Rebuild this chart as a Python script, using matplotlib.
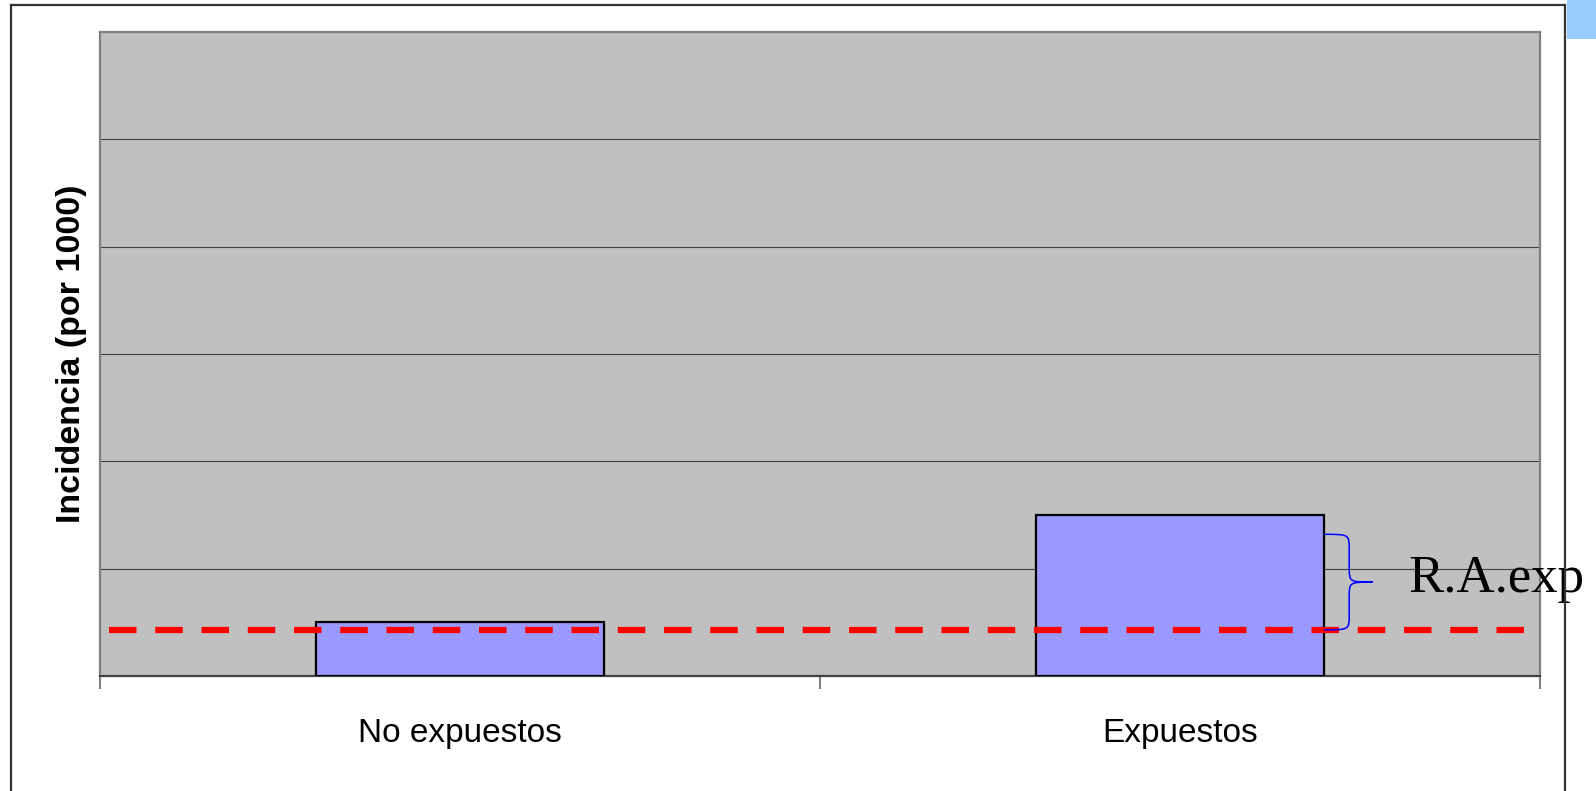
import matplotlib
matplotlib.use("Agg")
import matplotlib.pyplot as plt
from matplotlib.path import Path
from matplotlib.patches import PathPatch, Rectangle
from matplotlib.lines import Line2D

# data
categorias = ["No expuestos", "Expuestos"]
incidencia = [5, 15]
incidencia_base = 4.3
ra_top = 13.2
ylim_max = 60
grid_vals = [10, 20, 30, 40, 50]

W, H = 1596, 791
fig = plt.figure(figsize=(W / 100, H / 100), dpi=100)
fig.patch.set_facecolor("white")

# outer frame (slide border) and blue corner
fig.add_artist(Line2D([10.7 / W, 10.7 / W], [0, 1 - 5 / H], color="#333333", lw=1.6))
fig.add_artist(Line2D([10.7 / W, 1565 / W], [1 - 5 / H, 1 - 5 / H], color="#333333", lw=1.6))
fig.add_artist(Line2D([1565 / W, 1565 / W], [0, 1 - 5 / H], color="#333333", lw=1.6))
fig.add_artist(Rectangle((1566.5 / W, 1 - 39 / H), 1, 39 / H, transform=fig.transFigure,
                         facecolor="#99CCFF", edgecolor="none"))

ax = fig.add_axes([100 / W, 1 - 676 / H, 1440 / W, 644 / H])
ax.set_facecolor("#C0C0C0")

x = list(range(len(categorias)))
ax.bar(x, incidencia, width=0.4, color="#9999FF", edgecolor="black", linewidth=1.6, zorder=3)

for g in grid_vals:
    ax.axhline(g, color="#404040", lw=0.8, zorder=1)

ax.axhline(incidencia_base, xmin=0.006, xmax=0.995, color="#FF0000", lw=4.5,
           dashes=(4.4, 3), zorder=4)

ax.set_xlim(-0.5, 1.5)
ax.set_ylim(0, ylim_max)
ax.set_yticks([])
ax.set_xticks([-0.5, 0.5, 1.5])
ax.set_xticklabels([])
ax.tick_params(axis="x", length=9, width=1.5, color="#808080")
ax.set_xticks(x, minor=True)
ax.set_xticklabels(categorias, minor=True, fontsize=24, family="Liberation Sans")
ax.tick_params(axis="x", which="minor", length=0, pad=30)

for s in ["left", "top", "right"]:
    ax.spines[s].set_color("#808080")
    ax.spines[s].set_linewidth(1.6)
ax.spines["bottom"].set_color("#404040")
ax.spines["bottom"].set_linewidth(1.6)

ax.set_ylabel("Incidencia (por 1000)", fontsize=24.5, fontweight="bold",
              family="Liberation Sans", labelpad=9)

# curly brace for R.A.exp
x0, xm, xt = 1.2, 1.235, 1.268
top, bot = ra_top, incidencia_base
mid = (top + bot) / 2
d = 1.4
verts = [
    (x0, top), (xm, top), (xm, top), (xm, top - d),
    (xm, mid + d),
    (xm, mid), (xm, mid), (xt, mid),
    (xm, mid), (xm, mid), (xm, mid - d),
    (xm, bot + d),
    (xm, bot), (xm, bot), (x0, bot),
]
codes = [Path.MOVETO, Path.CURVE4, Path.CURVE4, Path.CURVE4,
         Path.LINETO,
         Path.CURVE4, Path.CURVE4, Path.CURVE4,
         Path.CURVE4, Path.CURVE4, Path.CURVE4,
         Path.LINETO,
         Path.CURVE4, Path.CURVE4, Path.CURVE4]
ax.add_patch(PathPatch(Path(verts, codes), facecolor="none", edgecolor="#0000FF",
                       lw=1.1, zorder=5, clip_on=False))

ax.text(1.3167, 7.8, "R.A.exp", fontsize=38, family="Liberation Serif",
        va="baseline", ha="left", clip_on=False, zorder=6)

fig.savefig("out.png", dpi=100)
